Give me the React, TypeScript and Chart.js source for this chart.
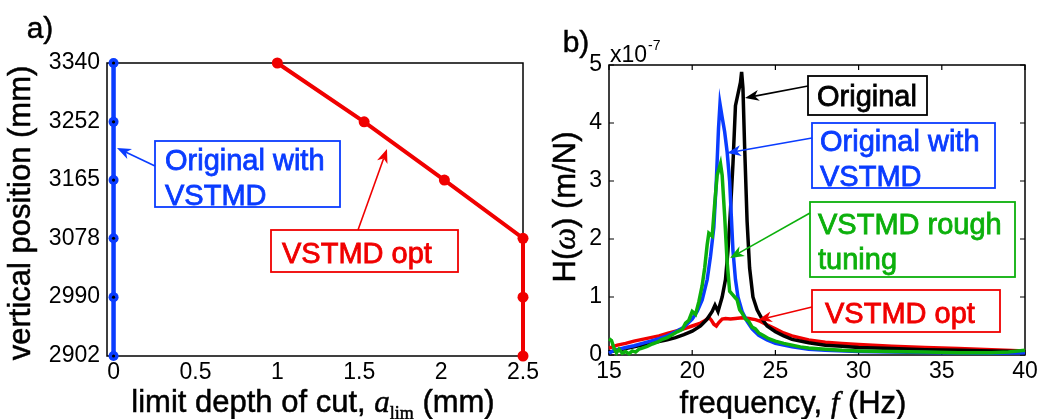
import React, { useEffect, useRef } from "react";
import { Chart, registerables } from "chart.js";

Chart.register(...registerables);

const SANS = "'Liberation Sans', Arial, Helvetica, sans-serif";
const SERIF = "'Liberation Serif', 'Times New Roman', serif";

const BLUE = "#0a3cff";
const RED = "#f00000";
const GREEN = "#0cb00c";
const BLACK = "#000000";

// ---------- Panel a) ----------
const positionTicks = [2902, 2990, 3078, 3165, 3252, 3340];
const depthTicks = [0, 0.5, 1, 1.5, 2, 2.5];
const originalVstmdDepth = [0, 0, 0, 0, 0, 0];
const originalVstmdPos = [3340, 3252, 3165, 3078, 2990, 2902];
const vstmdOptDepth = [1.0, 1.53, 2.02, 2.5, 2.5, 2.5];
const vstmdOptPos = [3340, 3252, 3165, 3078, 2990, 2902];

// ---------- Panel b) ----------  (H in units of 1e-7 m/N)
const freqTicks = [15, 20, 25, 30, 35, 40];
const hTicks = [0, 1, 2, 3, 4, 5];

const originalFreq = [15, 15.5, 16, 16.5, 17, 17.5, 18, 18.5, 19, 19.5, 20, 20.5, 20.9, 21.2, 21.37, 21.55, 21.8, 22.0, 22.15, 22.3, 22.45, 22.6, 22.75, 22.9, 22.97, 23.05, 23.15, 23.3, 23.45, 23.65, 23.9, 24.2, 24.5, 25, 25.5, 26, 27, 28, 29, 30, 32, 34, 36, 38, 40];
const originalH = [0.05, 0.08, 0.11, 0.14, 0.17, 0.2, 0.23, 0.26, 0.3, 0.35, 0.41, 0.5, 0.62, 0.75, 0.86, 0.75, 1.0, 1.3, 1.8, 2.5, 3.3, 4.3, 4.5, 4.7, 4.88, 4.6, 3.6, 2.3, 1.5, 1.0, 0.78, 0.62, 0.5, 0.4, 0.33, 0.27, 0.21, 0.17, 0.15, 0.13, 0.11, 0.09, 0.08, 0.07, 0.06];

const withVstmdFreq = [15, 15.3, 15.6, 16, 16.5, 17, 17.5, 18, 18.5, 19, 19.5, 20, 20.3, 20.6, 20.9, 21.1, 21.3, 21.45, 21.58, 21.67, 21.8, 21.95, 22.1, 22.25, 22.35, 22.45, 22.6, 22.75, 23.0, 23.3, 23.6, 24.0, 24.5, 25, 26, 27, 28, 30, 32, 35, 38, 40];
const withVstmdH = [0.03, 0.08, 0.1, 0.13, 0.16, 0.2, 0.24, 0.28, 0.33, 0.4, 0.48, 0.62, 0.75, 0.95, 1.3, 1.7, 2.2, 3.0, 3.9, 4.33, 4.1, 3.85, 3.5, 3.0, 2.4, 1.8, 1.3, 1.0, 0.75, 0.58, 0.45, 0.34, 0.26, 0.2, 0.14, 0.1, 0.08, 0.06, 0.05, 0.04, 0.03, 0.04];

const roughFreq = [15, 15.15, 15.3, 15.45, 15.6, 15.8, 16, 16.2, 16.4, 16.6, 16.8, 17, 17.3, 17.6, 17.9, 18.2, 18.5, 18.8, 19.1, 19.4, 19.6, 19.8, 20, 20.2, 20.4, 20.6, 20.75, 20.9, 21.0, 21.2, 21.35, 21.5, 21.7, 21.8, 21.95, 22.1, 22.25, 22.4, 22.55, 22.7, 22.85, 23.0, 23.2, 23.4, 23.6, 23.8, 24.0, 24.3, 24.6, 25, 25.5, 26, 26.5, 27, 28, 29, 30, 32, 34, 36, 38, 39, 40];
const roughH = [0.28, 0.25, 0.12, 0.04, 0.1, 0.03, 0.06, 0.02, 0.07, 0.05, 0.1, 0.12, 0.15, 0.19, 0.22, 0.27, 0.3, 0.35, 0.4, 0.44, 0.55, 0.6, 0.75, 0.7, 0.92, 1.2, 1.5, 1.9, 2.1, 2.05, 2.6, 3.1, 3.3, 3.1, 2.4, 1.6, 1.1, 1.05, 1.0, 0.95, 0.78, 0.72, 0.62, 0.58, 0.48, 0.45, 0.38, 0.33, 0.28, 0.24, 0.2, 0.17, 0.14, 0.12, 0.1, 0.08, 0.07, 0.06, 0.05, 0.04, 0.04, 0.05, 0.08];

const optFreq = [15, 15.5, 16, 16.5, 17, 17.5, 18, 18.5, 19, 19.5, 20, 20.5, 20.8, 21.0, 21.15, 21.3, 21.45, 21.6, 21.8, 22.0, 22.3, 22.6, 23.0, 23.4, 23.8, 24.1, 24.5, 25, 25.5, 26, 27, 28, 29, 30, 32, 34, 36, 38, 40];
const optH = [0.12, 0.17, 0.2, 0.24, 0.27, 0.3, 0.33, 0.37, 0.41, 0.45, 0.5, 0.55, 0.6, 0.65, 0.6, 0.53, 0.5, 0.56, 0.62, 0.63, 0.62, 0.63, 0.64, 0.63, 0.61, 0.58, 0.52, 0.45, 0.38, 0.33, 0.26, 0.22, 0.2, 0.18, 0.15, 0.13, 0.11, 0.09, 0.07];

const zip = (xs: number[], ys: number[]) => xs.map((x, i) => ({ x, y: ys[i] }));

type Part = { text: string; font: string; dy?: number };

function drawParts(ctx: CanvasRenderingContext2D, parts: Part[], cx: number, baseline: number, heavy = 0.5) {
  let total = 0;
  const widths = parts.map((p) => {
    ctx.font = p.font;
    const w = ctx.measureText(p.text).width;
    total += w;
    return w;
  });
  let x = cx - total / 2;
  ctx.textAlign = "left";
  ctx.textBaseline = "alphabetic";
  ctx.strokeStyle = ctx.fillStyle as string;
  ctx.lineWidth = heavy;
  parts.forEach((p, i) => {
    ctx.font = p.font;
    ctx.fillText(p.text, x, baseline + (p.dy || 0));
    if (heavy > 0) ctx.strokeText(p.text, x, baseline + (p.dy || 0));
    x += widths[i];
  });
}

function arrow(ctx: CanvasRenderingContext2D, x0: number, y0: number, x1: number, y1: number, color: string) {
  const ang = Math.atan2(y1 - y0, x1 - x0);
  const L = 14, W = 5.5, N = 10;
  const c = Math.cos(ang), s = Math.sin(ang);
  ctx.save();
  ctx.strokeStyle = color;
  ctx.fillStyle = color;
  ctx.lineWidth = 1.6;
  ctx.beginPath();
  ctx.moveTo(x0, y0);
  ctx.lineTo(x1 - c * N, y1 - s * N);
  ctx.stroke();
  const bx = x1 - c * L, by = y1 - s * L;
  const nx = -s, ny = c;
  ctx.beginPath();
  ctx.moveTo(x1, y1);
  ctx.lineTo(bx + nx * W, by + ny * W);
  ctx.lineTo(x1 - c * N, y1 - s * N);
  ctx.lineTo(bx - nx * W, by - ny * W);
  ctx.closePath();
  ctx.fill();
  ctx.restore();
}

function textBox(
  ctx: CanvasRenderingContext2D,
  x0: number, y0: number, x1: number, y1: number,
  lines: string[], tx: number, centers: number[], color: string
) {
  ctx.save();
  ctx.strokeStyle = color;
  ctx.lineWidth = 1.8;
  ctx.strokeRect(x0, y0, x1 - x0, y1 - y0);
  ctx.fillStyle = color;
  ctx.font = `29px ${SANS}`;
  ctx.textAlign = "left";
  ctx.textBaseline = "alphabetic";
  ctx.lineWidth = 0.8;
  lines.forEach((t, i) => {
    ctx.fillText(t, tx, centers[i] + 10.5);
    ctx.strokeText(t, tx, centers[i] + 10.5);
  });
  ctx.restore();
}

const tickFont = { family: SANS, size: 23, lineHeight: 1.2 };

const panelAPlugin = {
  id: "panelA",
  beforeDatasetsDraw(chart: any) {
    const { ctx, chartArea: a } = chart;
    ctx.save();
    ctx.strokeStyle = "#000";
    ctx.lineWidth = 1.5;
    ctx.strokeRect(a.left, a.top, a.right - a.left, a.bottom - a.top);
    ctx.restore();
  },
  afterDraw(chart: any) {
    const { ctx } = chart;
    ctx.save();
    ctx.fillStyle = "#000";
    drawParts(ctx, [{ text: "a)", font: `30px ${SANS}` }], 40, 38);

    drawParts(ctx, [
      { text: "limit depth of cut, ", font: `31px ${SANS}` },
      { text: "a", font: `italic 31px ${SERIF}` },
      { text: "lim", font: `18px ${SERIF}`, dy: 7 },
      { text: " (mm)", font: `31px ${SANS}` },
    ], 313, 412);

    ctx.save();
    ctx.translate(30, 213);
    ctx.rotate(-Math.PI / 2);
    drawParts(ctx, [{ text: "vertical position (mm)", font: `31px ${SANS}` }], 0, 0);
    ctx.restore();

    textBox(ctx, 155, 141, 340, 207, ["Original with", "VSTMD"], 165, [159, 194], BLUE);
    arrow(ctx, 155, 166, 117, 148, BLUE);
    textBox(ctx, 271, 230, 458, 272, ["VSTMD opt"], 282, [252], RED);
    arrow(ctx, 358, 230, 387, 149, RED);
    ctx.restore();
  },
};

const panelBPlugin = {
  id: "panelB",
  beforeDatasetsDraw(chart: any) {
    const { ctx, chartArea: a, scales } = chart;
    const x = scales.x, y = scales.y;
    ctx.save();
    ctx.strokeStyle = "#000";
    ctx.lineWidth = 1.5;
    ctx.strokeRect(a.left, a.top, a.right - a.left, a.bottom - a.top);
    ctx.lineWidth = 1.2;
    ctx.beginPath();
    freqTicks.forEach((v) => {
      const px = x.getPixelForValue(v);
      ctx.moveTo(px, a.bottom); ctx.lineTo(px, a.bottom - 5);
      ctx.moveTo(px, a.top); ctx.lineTo(px, a.top + 5);
    });
    hTicks.forEach((v) => {
      const py = y.getPixelForValue(v);
      ctx.moveTo(a.left, py); ctx.lineTo(a.left + 5, py);
      ctx.moveTo(a.right, py); ctx.lineTo(a.right - 5, py);
    });
    ctx.stroke();
    ctx.restore();
  },
  afterDraw(chart: any) {
    const { ctx } = chart;
    ctx.save();
    ctx.fillStyle = "#000";
    drawParts(ctx, [{ text: "b)", font: `30px ${SANS}` }], 36, 52);
    ctx.textAlign = "left";
    ctx.textBaseline = "alphabetic";
    ctx.font = `23px ${SANS}`;
    ctx.fillText("x10", 70, 62);
    const w = ctx.measureText("x10").width;
    ctx.font = `14px ${SANS}`;
    ctx.fillText("-7", 70 + w + 1, 50);

    drawParts(ctx, [
      { text: "frequency, ", font: `31px ${SANS}` },
      { text: "f", font: `italic 31px ${SERIF}` },
      { text: " (Hz)", font: `31px ${SANS}` },
    ], 253, 413);

    ctx.save();
    ctx.translate(35, 207);
    ctx.rotate(-Math.PI / 2);
    drawParts(ctx, [
      { text: "H(", font: `31px ${SANS}` },
      { text: "ω", font: `italic 31px ${SERIF}` },
      { text: ") (m/N)", font: `31px ${SANS}` },
    ], 0, 0);
    ctx.restore();

    textBox(ctx, 268, 76, 387, 115, ["Original"], 277, [95], BLACK);
    arrow(ctx, 268, 86, 205, 98, BLACK);
    textBox(ctx, 272, 123, 455, 188, ["Original with", "VSTMD"], 280, [140, 175], BLUE);
    arrow(ctx, 272, 138, 187, 153, BLUE);
    textBox(ctx, 270, 202, 475, 277, ["VSTMD rough", "tuning"], 278, [223, 258], GREEN);
    arrow(ctx, 270, 213, 190, 258, GREEN);
    textBox(ctx, 272, 290, 460, 332, ["VSTMD opt"], 285, [312], RED);
    arrow(ctx, 272, 307, 218, 320, RED);
    ctx.restore();
  },
};

function fixX(h: number) {
  return (s: any) => {
    s.height = h;
    s.paddingLeft = 0;
    s.paddingRight = 0;
  };
}
function fixY(w: number) {
  return (s: any) => {
    s.width = w;
    s.paddingTop = 0;
    s.paddingBottom = 0;
  };
}

export default function App() {
  const refA = useRef<HTMLCanvasElement | null>(null);
  const refB = useRef<HTMLCanvasElement | null>(null);

  useEffect(() => {
    const common: any = {
      responsive: false,
      maintainAspectRatio: false,
      devicePixelRatio: 1,
      animation: false,
      events: [],
      plugins: { legend: { display: false }, tooltip: { enabled: false } },
    };

    const chartA = new Chart(refA.current as HTMLCanvasElement, {
      type: "scatter",
      data: {
        datasets: [
          {
            label: "Original with VSTMD (centre)",
            data: zip(originalVstmdDepth, originalVstmdPos),
            showLine: false,
            pointRadius: 1.6,
            pointBackgroundColor: "#000",
            pointBorderWidth: 0,
            clip: false,
            order: 0,
          },
          {
            label: "Original with VSTMD",
            data: zip(originalVstmdDepth, originalVstmdPos),
            showLine: true,
            borderColor: BLUE,
            borderWidth: 4.5,
            pointRadius: 5,
            pointBackgroundColor: BLUE,
            pointBorderWidth: 0,
            clip: false,
            order: 1,
          },
          {
            label: "VSTMD opt",
            data: zip(vstmdOptDepth, vstmdOptPos),
            showLine: true,
            borderColor: RED,
            borderWidth: 4,
            pointRadius: 5.5,
            pointBackgroundColor: RED,
            pointBorderWidth: 0,
            clip: false,
            order: 2,
          },
        ],
      },
      options: {
        ...common,
        layout: { padding: { top: 63, right: 17, left: 0, bottom: 0 } },
        scales: {
          x: {
            type: "linear",
            min: -0.04,
            max: 2.5,
            afterBuildTicks: (s: any) => { s.ticks = depthTicks.map((v) => ({ value: v })); },
            ticks: { font: tickFont, color: "#000", padding: 3, maxRotation: 0, autoSkip: false, callback: (v: any) => String(v) },
            grid: { display: false, drawTicks: false },
            border: { display: false },
            afterFit: fixX(63),
          },
          y: {
            type: "linear",
            min: 2902,
            max: 3340,
            afterBuildTicks: (s: any) => { s.ticks = positionTicks.map((v) => ({ value: v })); },
            ticks: { font: tickFont, color: "#000", padding: 7, autoSkip: false, callback: (v: any) => String(v) },
            grid: { display: false, drawTicks: false },
            border: { display: false },
            afterFit: fixY(107),
          },
        },
      } as any,
      plugins: [panelAPlugin],
    });

    const line = (label: string, xs: number[], ys: number[], color: string, order: number) => ({
      label,
      data: zip(xs, ys),
      showLine: true,
      borderColor: color,
      borderWidth: 3.5,
      pointRadius: 0,
      tension: 0,
      clip: false,
      order,
    });

    const chartB = new Chart(refB.current as HTMLCanvasElement, {
      type: "scatter",
      data: {
        datasets: [
          line("VSTMD rough tuning", roughFreq, roughH, GREEN, 0),
          line("Original with VSTMD", withVstmdFreq, withVstmdH, BLUE, 1),
          line("Original", originalFreq, originalH, BLACK, 2),
          line("VSTMD opt", optFreq, optH, RED, 3),
        ],
      },
      options: {
        ...common,
        layout: { padding: { top: 65, right: 15, left: 0, bottom: 0 } },
        scales: {
          x: {
            type: "linear",
            min: 15,
            max: 40,
            afterBuildTicks: (s: any) => { s.ticks = freqTicks.map((v) => ({ value: v })); },
            ticks: { font: tickFont, color: "#000", padding: 3, maxRotation: 0, autoSkip: false, callback: (v: any) => String(v) },
            grid: { display: false, drawTicks: false },
            border: { display: false },
            afterFit: fixX(64),
          },
          y: {
            type: "linear",
            min: 0,
            max: 5,
            afterBuildTicks: (s: any) => { s.ticks = hTicks.map((v) => ({ value: v })); },
            ticks: { font: tickFont, color: "#000", padding: 7, autoSkip: false, callback: (v: any) => String(v) },
            grid: { display: false, drawTicks: false },
            border: { display: false },
            afterFit: fixY(69),
          },
        },
      } as any,
      plugins: [panelBPlugin],
    });

    return () => {
      chartA.destroy();
      chartB.destroy();
    };
  }, []);

  return (
    <div style={{ position: "fixed", left: 0, top: 0, width: 1040, height: 419, background: "#fff", overflow: "hidden" }}>
      <canvas ref={refA} width={540} height={419} style={{ position: "absolute", left: 0, top: 0, width: 540, height: 419 }} />
      <canvas ref={refB} width={500} height={419} style={{ position: "absolute", left: 540, top: 0, width: 500, height: 419 }} />
    </div>
  );
}
